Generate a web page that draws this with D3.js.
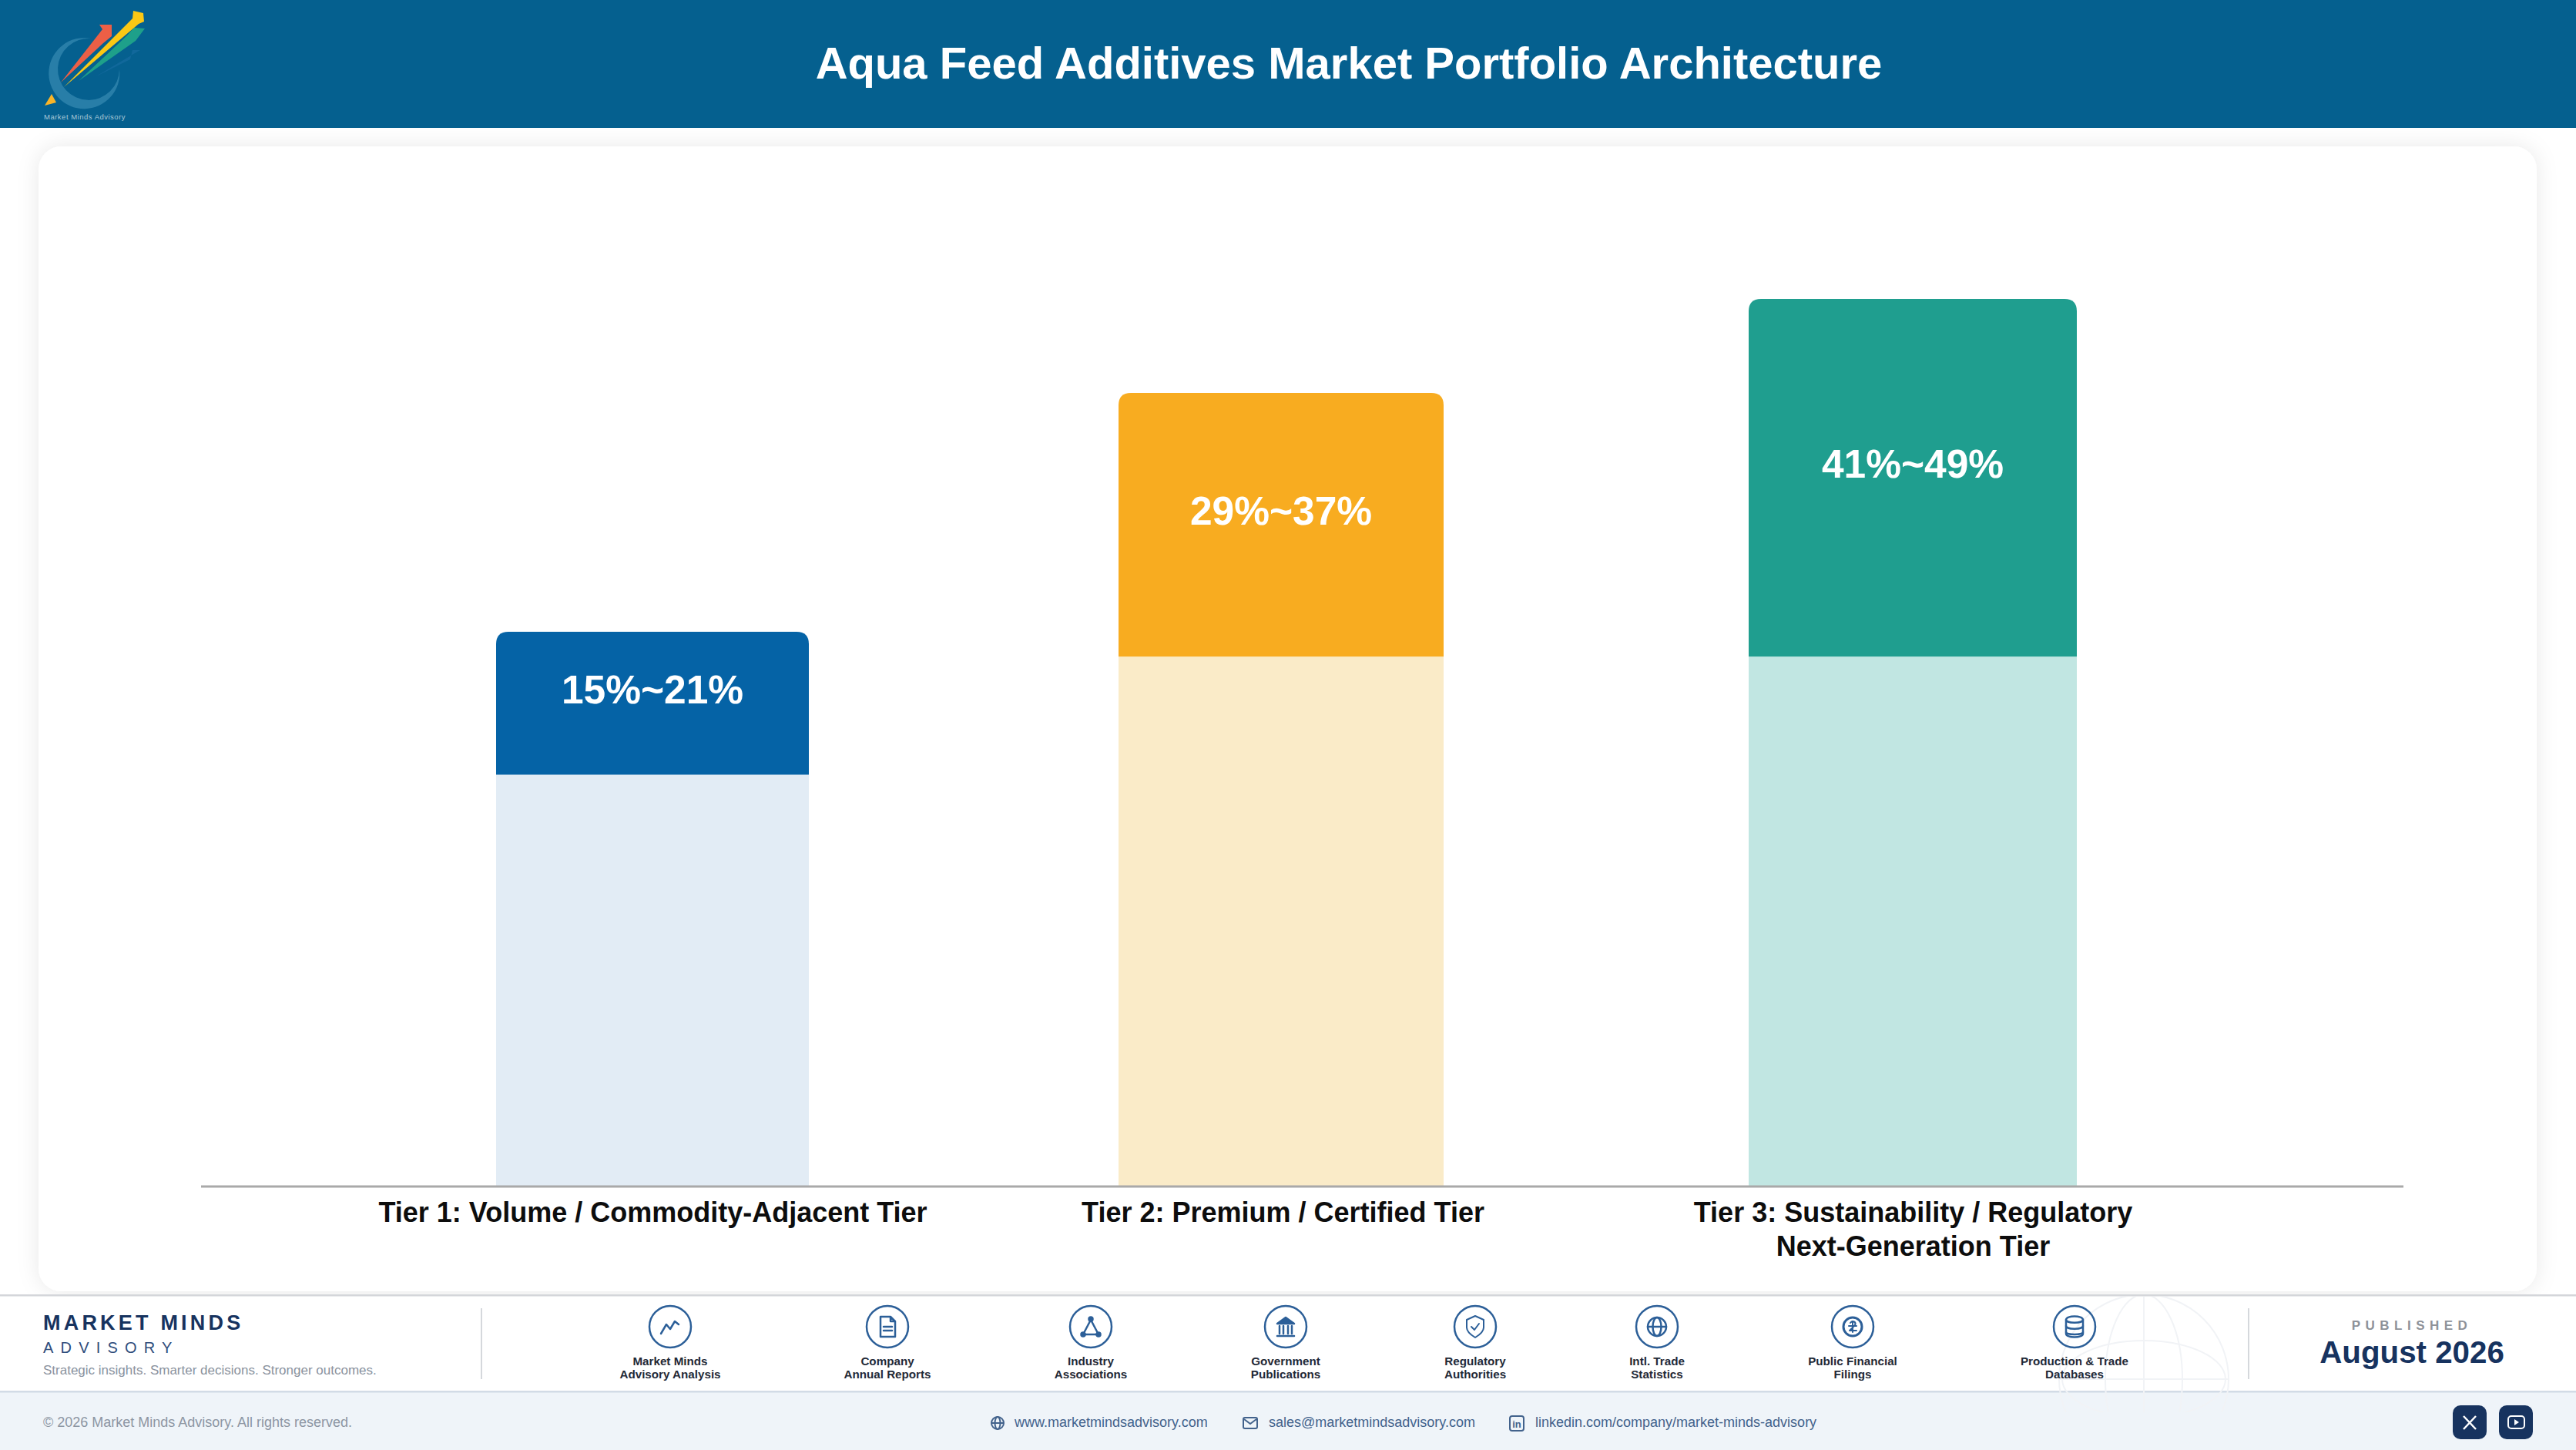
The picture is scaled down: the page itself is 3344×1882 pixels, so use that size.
<!DOCTYPE html>
<html>
<meta charset="utf-8">
<style>
body { margin: 0; background: #fff; }
svg { display: block; font-family: "Liberation Sans", Arial, sans-serif; }
.tier-axis text { font-size: 36px; font-weight: 700; fill: #0d0d0d; }
.range-label { font-size: 51.5px; font-weight: 700; fill: #fff; text-anchor: middle; }
.source-label { font-size: 15.2px; font-weight: 700; fill: #1f2937; text-anchor: middle; }
.contact { font-size: 18px; fill: #42628c; }
.icon { fill: none; stroke: #2c5f98; stroke-width: 2.5; stroke-linecap: round; stroke-linejoin: round; }
</style>
<body>
<script src="https://cdn.jsdelivr.net/npm/d3@7"></script>
<script>

// chart data, heights (tallest bar = 100)
var tiers = ["Tier 1: Volume / Commodity-Adjacent Tier", "Tier 2: Premium / Certified Tier", "Tier 3: Sustainability / Regulatory\nNext-Generation Tier"];
var rangeLabels = ["15%~21%", "29%~37%", "41%~49%"];
var paleHeights = [46.4, 59.7, 59.7];
var barHeights = [62.5, 89.4, 100];

var sourceNames = ["Market Minds\nAdvisory Analysis", "Company\nAnnual Reports", "Industry\nAssociations", "Government\nPublications", "Regulatory\nAuthorities", "Intl. Trade\nStatistics", "Public Financial\nFilings", "Production & Trade\nDatabases"];
var sourceIcons = ["chart", "doc", "network", "bank", "shield", "globe", "coin", "db"];
var contacts = ["www.marketmindsadvisory.com", "sales@marketmindsadvisory.com", "linkedin.com/company/market-minds-advisory"];

// layout
var width = 3344, height = 1882;
var baseY = 1540, axisLeft = 261, axisRight = 3120;
var barWidths = [406, 422, 426];
var barNudge = [0, -2, 0];
var solidColors = ["#0563a6", "#f8ac20", "#1f9e8f"];
var paleColors = ["#e2ecf5", "#faebc8", "#c1e6e2"];
var sourceX = [870, 1152, 1416, 1669, 1915, 2151, 2405, 2693];

var svg = d3.select("body").append("svg")
    .attr("width", width)
    .attr("height", height);

var defs = svg.append("defs");
var shadow = defs.append("filter").attr("id", "cardShadow")
    .attr("x", "-5%").attr("y", "-5%").attr("width", "110%").attr("height", "110%");
shadow.append("feDropShadow")
    .attr("dx", 0).attr("dy", 0).attr("stdDeviation", 14)
    .attr("flood-color", "#000").attr("flood-opacity", 0.09);

defs.append("clipPath").attr("id", "globeClip").append("rect")
    .attr("x", 2600).attr("y", 1683).attr("width", 400).attr("height", 150);

// card
svg.append("rect").attr("x", 50).attr("y", 190).attr("width", 3243).attr("height", 1486)
    .attr("rx", 30).attr("fill", "#fff").attr("filter", "url(#cardShadow)");

// header
svg.append("rect").attr("width", width).attr("height", 166).attr("fill", "#05608f");
svg.append("text").attr("x", 1751).attr("y", 102)
    .attr("text-anchor", "middle").attr("fill", "#fff")
    .attr("font-size", 58).attr("font-weight", 700)
    .text("Aqua Feed Additives Market Portfolio Architecture");

// logo
var logo = svg.append("g");
logo.append("path")
    .attr("d", "M118,50 A46,46 0 1 0 155,90 A40,40 0 1 1 118,50 Z")
    .attr("fill", "#2f84ad").attr("opacity", 0.85);
logo.append("path").attr("d", "M58,137 L67,122 L73,133 Z").attr("fill", "#f9b428");
logo.append("path").attr("d", "M123,100 L182,65 L181,65 L172,65 L169,77 Z").attr("fill", "#1d6fa8").attr("opacity", 0.5);
logo.append("path").attr("d", "M102,105 L176,53 L188,37 L174,36 L165,46 Z").attr("fill", "#1ea08a");
logo.append("path").attr("d", "M83,113 L180,31 L187,28 L186,17 L173,14 L172,24 Z").attr("fill", "#fbc814");
logo.append("path").attr("d", "M79,107 L134,56 L145,47 L145,32 L129,32 L133,38 Z").attr("fill", "#ec5f46");
logo.append("text").attr("x", 57).attr("y", 155).attr("font-size", 9.5).attr("fill", "#a9c8d8")
    .attr("letter-spacing", 0.5).text("Market Minds Advisory");

// bars
var x = d3.scalePoint().domain(tiers).range([847, 2483]);
var y = d3.scaleLinear().domain([0, 100]).range([baseY, 388]);

var bars = svg.append("g").selectAll("g")
    .data(tiers)
    .enter()
    .append("g");

bars.append("rect")
    .attr("x", function(d, i) { return x(d) + barNudge[i] - barWidths[i] / 2; })
    .attr("y", function(d, i) { return y(paleHeights[i]); })
    .attr("width", function(d, i) { return barWidths[i]; })
    .attr("height", function(d, i) { return baseY - y(paleHeights[i]); })
    .attr("fill", function(d, i) { return paleColors[i]; });

bars.append("path")
    .attr("d", function(d, i) {
        var l = x(d) + barNudge[i] - barWidths[i] / 2, r = l + barWidths[i];
        var t = y(barHeights[i]), b = y(paleHeights[i]), c = 16;
        return "M" + l + "," + b + "V" + (t + c) + "Q" + l + "," + t + " " + (l + c) + "," + t +
            "H" + (r - c) + "Q" + r + "," + t + " " + r + "," + (t + c) + "V" + b + "Z";
    })
    .attr("fill", function(d, i) { return solidColors[i]; });

bars.append("text")
    .attr("class", "range-label")
    .attr("x", function(d, i) { return x(d) + barNudge[i]; })
    .attr("y", function(d, i) { return (y(barHeights[i]) + y(paleHeights[i])) / 2; })
    .text(function(d, i) { return rangeLabels[i]; });

// axis
var axis = svg.append("g").attr("class", "tier-axis")
    .attr("transform", "translate(0," + baseY + ")")
    .call(d3.axisBottom(x).tickSize(0).tickFormat(""));
axis.select(".domain").remove();

axis.selectAll(".tick text").each(function(d) {
    var t = d3.select(this).attr("y", 0).attr("dy", null);
    d.split("\n").forEach(function(line, i) {
        t.append("tspan").attr("x", 0).attr("y", 46 + i * 44).text(line);
    });
});

svg.append("line")
    .attr("x1", axisLeft).attr("x2", axisRight)
    .attr("y1", baseY).attr("y2", baseY)
    .attr("stroke", "#a9a9a9").attr("stroke-width", 3);

// footer
svg.append("rect").attr("y", 1681).attr("width", width).attr("height", 125).attr("fill", "#fff");
svg.append("rect").attr("y", 1806).attr("width", width).attr("height", 76).attr("fill", "#eff4f9");
svg.append("rect").attr("y", 1680).attr("width", width).attr("height", 2.5).attr("fill", "#d4d6da");
svg.append("rect").attr("y", 1805).attr("width", width).attr("height", 2.5).attr("fill", "#d2dbe6");

// faint globe behind the last source
var globe = svg.append("g").attr("clip-path", "url(#globeClip)")
    .attr("fill", "none").attr("stroke", "#f1f3f6").attr("stroke-width", 2);
globe.append("circle").attr("cx", 2783).attr("cy", 1790).attr("r", 110);
globe.append("ellipse").attr("cx", 2783).attr("cy", 1790).attr("rx", 50).attr("ry", 110);
globe.append("ellipse").attr("cx", 2783).attr("cy", 1790).attr("rx", 106).attr("ry", 50);
globe.append("line").attr("x1", 2673).attr("x2", 2893).attr("y1", 1790).attr("y2", 1790);
globe.append("line").attr("x1", 2783).attr("x2", 2783).attr("y1", 1680).attr("y2", 1900);

svg.append("text").attr("x", 56).attr("y", 1726).attr("font-size", 27).attr("font-weight", 700)
    .attr("letter-spacing", 4.2).attr("fill", "#17335f").text("MARKET MINDS");
svg.append("text").attr("x", 56).attr("y", 1756).attr("font-size", 20)
    .attr("letter-spacing", 9.2).attr("fill", "#2f4d7c").text("ADVISORY");
svg.append("text").attr("x", 56).attr("y", 1784).attr("font-size", 17)
    .attr("fill", "#8a929e").text("Strategic insights. Smarter decisions. Stronger outcomes.");

[625, 2919].forEach(function(dx) {
    svg.append("line").attr("x1", dx).attr("x2", dx).attr("y1", 1698).attr("y2", 1790)
        .attr("stroke", "#d5d8dc").attr("stroke-width", 2);
});

svg.append("text").attr("x", 3131).attr("y", 1726).attr("text-anchor", "middle")
    .attr("font-size", 17).attr("font-weight", 700).attr("letter-spacing", 6.5)
    .attr("fill", "#8e9299").text("PUBLISHED");
svg.append("text").attr("x", 3131).attr("y", 1769).attr("text-anchor", "middle")
    .attr("font-size", 40.3).attr("font-weight", 700)
    .attr("fill", "#17335f").text("August 2026");

// source icons
function drawIcon(g, kind) {
    g.attr("class", "icon");
    if (kind == "chart") {
        g.append("path").attr("d", "M-12,9 L-5,-3 L0,3 L6,-7 L11,-3");
    } else if (kind == "doc") {
        g.append("path").attr("d", "M-9,-13 H4 L10,-7 V13 H-9 Z M4,-13 V-7 H10 M-5,0 H6 M-5,5 H6");
    } else if (kind == "network") {
        g.append("path").attr("d", "M0,-9 L-10,10 H10 Z");
        g.selectAll("circle").data([[0, -10], [-10, 10], [10, 10]]).enter().append("circle")
            .attr("cx", function(d) { return d[0]; }).attr("cy", function(d) { return d[1]; })
            .attr("r", 2.5).attr("fill", "#2c5f98");
    } else if (kind == "bank") {
        g.append("path").attr("d", "M0,-12 L11,-4 H-11 Z").attr("fill", "#2c5f98");
        g.append("path").attr("d", "M-8,-1 V9 M-3,-1 V9 M3,-1 V9 M8,-1 V9 M-11,12 H11");
    } else if (kind == "shield") {
        g.append("path").attr("d", "M0,-14 L11,-9 V1 C11,7 5,11 0,14 C-5,11 -11,7 -11,1 V-9 Z").attr("stroke-width", 2);
        g.append("path").attr("d", "M-5,0 L-1,4 L5,-4").attr("stroke-width", 2);
    } else if (kind == "globe") {
        g.append("circle").attr("r", 12);
        g.append("ellipse").attr("rx", 5.5).attr("ry", 12);
        g.append("path").attr("d", "M-12,0 H12");
    } else if (kind == "coin") {
        g.append("circle").attr("r", 12).attr("stroke-width", 3);
        g.append("path").attr("d", "M-3,-5 C0,-9 5,-6 3,-2 L-4,5 H5 M-5,-1 H5 M0,-7 V7").attr("stroke-width", 2);
    } else if (kind == "db") {
        g.append("path").attr("d", "M-11,-9 C-11,-15 11,-15 11,-9 V9 C11,15 -11,15 -11,9 Z");
        g.append("path").attr("d", "M-11,-9 C-11,-4 11,-4 11,-9 M-11,-1 C-11,4 11,4 11,-1 M-11,7 C-11,11 11,11 11,7");
    }
}

var sources = svg.append("g").selectAll("g")
    .data(sourceNames)
    .enter()
    .append("g")
    .attr("transform", function(d, i) { return "translate(" + sourceX[i] + ",1722)"; });

sources.append("circle").attr("r", 27)
    .attr("fill", "none").attr("stroke", "#2c5f98").attr("stroke-width", 2.5);

sources.append("g").each(function(d, i) { drawIcon(d3.select(this), sourceIcons[i]); });

sources.each(function(d) {
    var g = d3.select(this);
    d.split("\n").forEach(function(line, i) {
        g.append("text").attr("class", "source-label").attr("y", 50 + i * 17).text(line);
    });
});

// bottom band
svg.append("text").attr("x", 56).attr("y", 1852).attr("font-size", 18)
    .attr("fill", "#8d96a3").text("\u00a9 2026 Market Minds Advisory. All rights reserved.");

var contactX = [1317, 1647, 1993];
var contactIconX = [1295, 1623, 1969];
svg.append("g").selectAll("text")
    .data(contacts)
    .enter()
    .append("text")
    .attr("class", "contact")
    .attr("x", function(d, i) { return contactX[i]; })
    .attr("y", 1852)
    .text(function(d) { return d; });

var small = svg.append("g").attr("fill", "none").attr("stroke", "#42628c").attr("stroke-width", 2);
small.append("circle").attr("cx", contactIconX[0]).attr("cy", 1847).attr("r", 8);
small.append("ellipse").attr("cx", contactIconX[0]).attr("cy", 1847).attr("rx", 3.5).attr("ry", 8);
small.append("path").attr("d", "M" + (contactIconX[0] - 8) + ",1847 h16");
small.append("rect").attr("x", contactIconX[1] - 9).attr("y", 1840).attr("width", 18).attr("height", 14).attr("rx", 2);
small.append("path").attr("d", "M" + (contactIconX[1] - 8) + ",1842 l8,6 l8,-6");
small.append("rect").attr("x", contactIconX[2] - 9).attr("y", 1838).attr("width", 18).attr("height", 19).attr("rx", 3);
small.append("text").attr("x", contactIconX[2]).attr("y", 1853).attr("text-anchor", "middle")
    .attr("font-size", 13).attr("font-weight", 700).attr("fill", "#42628c").attr("stroke", "none").text("in");

// social buttons
[3184, 3244].forEach(function(bx) {
    svg.append("rect").attr("x", bx).attr("y", 1824).attr("width", 44).attr("height", 44)
        .attr("rx", 10).attr("fill", "#17335f");
});
svg.append("path").attr("d", "M3198,1838 L3214,1855 M3214,1838 L3198,1855")
    .attr("stroke", "#fff").attr("stroke-width", 2.5);
svg.append("rect").attr("x", 3256).attr("y", 1838).attr("width", 21).attr("height", 16).attr("rx", 4)
    .attr("fill", "none").attr("stroke", "#fff").attr("stroke-width", 2);
svg.append("path").attr("d", "M3264,1842 L3270,1846 L3264,1850 Z").attr("fill", "#fff");

</script>
</body>
</html>
